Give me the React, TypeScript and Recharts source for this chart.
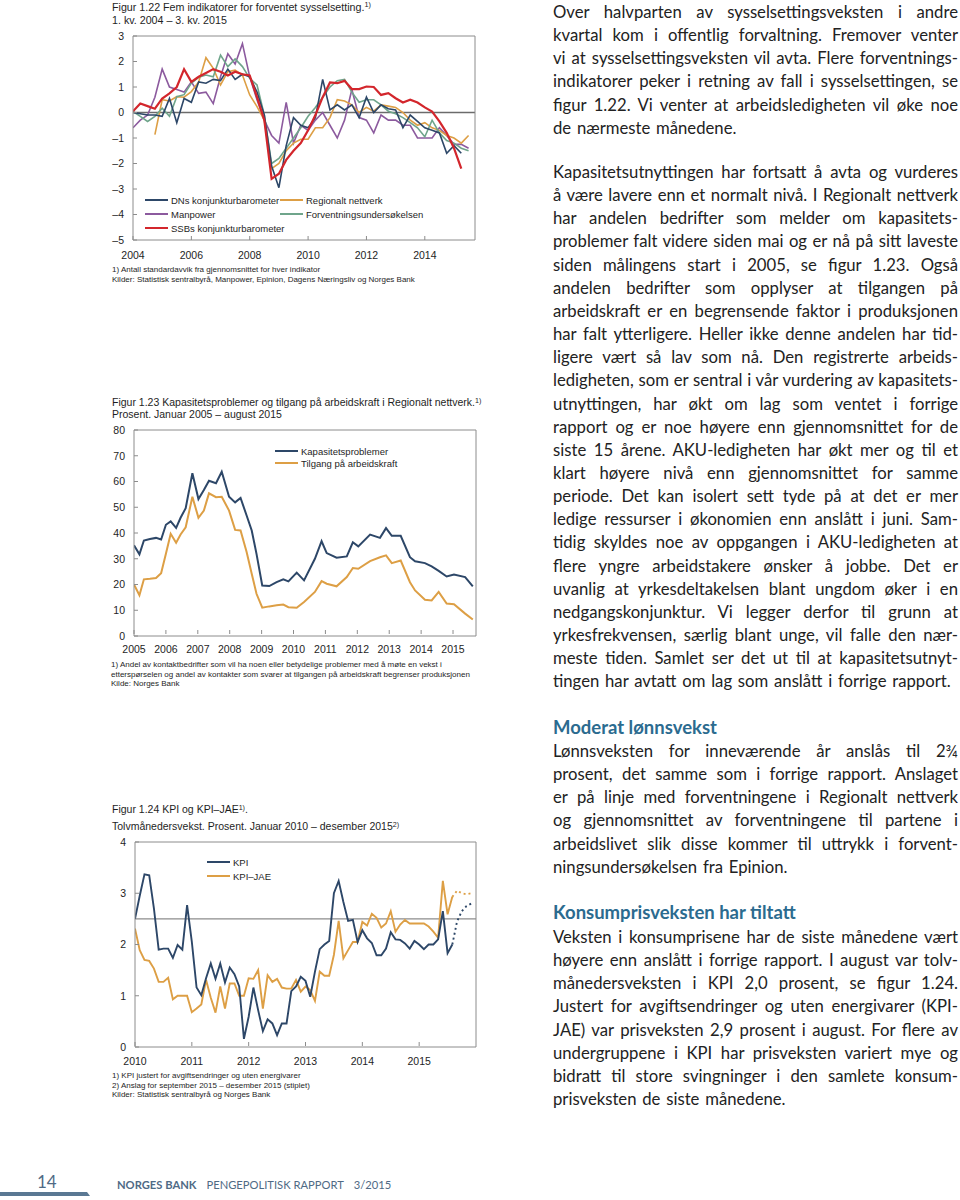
import React from 'react';
import { LineChart, Line, XAxis, YAxis, ReferenceLine } from 'recharts';

// ---------- Figur 1.22: quarterly, 1. kv. 2004 – 3. kv. 2015 ----------
const fig22FirstYear = 2004;
const dnsBarometer = [
  0.0, -0.05, -0.1, -0.1, -0.15, 0.55, -0.4, 0.55, 0.4, 1.2,
  1.15, 1.3, 1.25, 1.7, 1.3, 1.5, 1.4, 0.8, -0.1, -2.1,
  -2.95, -1.3, -0.2, -0.5, -0.6, -0.2, 1.3, 0.1, 0.3, 0.1,
  0.3, -0.2, 0.6, 0.0, 0.3, 0.15, 0.1, -0.6, -0.1, -0.35,
  -0.6, -0.7, -0.8, -1.6, -1.3, -1.6, null,
];
const regionaltNettverk = [
  null, null, null, -0.87, 0.5, 0.45, 0.62, 0.6, 0.82, 1.2,
  2.15, 1.73, 1.08, 1.6, 1.66, 1.47, 0.69, 0.23, -0.3, -2.2,
  -2.0, -1.5, -1.2, -1.05, -1.05, -0.6, -0.6, -0.2, 0.5, 0.45,
  0.3, 0.0, 0.2, 0.05, 0.3, 0.25, 0.2, 0.0, -0.3, -0.5,
  -0.4, -0.6, -0.7, -0.9, -1.0, -1.2, -0.9,
];
const manpower = [
  -0.6, -0.3, -0.1, 0.6, 1.7, 1.0, 0.9, 0.8, 1.2, 0.75,
  0.8, 0.35, 1.4, 2.3, 1.9, 2.7, 1.4, 0.5, -0.3, -0.9,
  -1.2, 0.4, -1.2, -0.5, -0.7, -0.3, 0.0, -0.5, -1.0, -0.3,
  0.9, -0.2, -0.3, -0.8, -0.1, -0.3, -0.3, -0.5, -0.5, -1.0,
  -1.0, -1.0, -0.6, -0.9, -1.25, -1.25, -1.4,
];
const forventning = [
  0.04, -0.15, -0.35, -0.15, 0.17, -0.15, 0.62, 0.7, 1.15, 1.38,
  1.47, 1.4, 2.25, 1.8, 2.1, 1.8, 1.34, 1.08, -0.1, -2.0,
  -1.8, -1.4, -1.0, -0.6, -0.15, 0.2, 0.6, 1.0, 1.25, 1.3,
  0.8, 0.4, 0.5, 0.5, 0.3, 0.05, -0.05, -0.2, -0.4, -0.6,
  -0.95, -0.3, -0.8, -1.1, -1.2, -1.4, -1.5,
];
const ssbBarometer = [
  0.05, 0.35, 0.25, 0.15, 0.55, 0.75, 1.0, 1.7, 1.2, 1.4,
  1.55, 1.7, 1.6, 1.45, 1.6, 1.5, 1.45, 0.6, -0.3, -2.6,
  -2.4, -1.86, -1.5, -1.2, -0.7, -0.1, 0.6, 1.18, 1.15, 1.24,
  0.92, 0.92, 1.02, 1.0, 0.69, 0.76, 0.56, 0.39, 0.5, 0.39,
  0.2, 0.04, -0.35, -0.8, -1.4, -2.2, null,
];
const fig22YTicks = [-5, -4, -3, -2, -1, 0, 1, 2, 3];
const fig22XTicks = [2004, 2006, 2008, 2010, 2012, 2014];

// ---------- Figur 1.23: Regionalt nettverk, januar 2005 – august 2015 ----------
const fig23Dates = [
  2005.0, 2005.17, 2005.31, 2005.5, 2005.69, 2005.85, 2006.0, 2006.15, 2006.32, 2006.46,
  2006.62, 2006.83, 2007.02, 2007.19, 2007.35, 2007.57, 2007.75, 2007.98, 2008.17, 2008.34,
  2008.53, 2008.69, 2008.84, 2009.02, 2009.24, 2009.47, 2009.68, 2009.84, 2010.1, 2010.33,
  2010.67, 2010.88, 2011.04, 2011.35, 2011.67, 2011.86, 2012.03, 2012.4, 2012.71, 2012.9,
  2013.08, 2013.36, 2013.65, 2013.81, 2014.12, 2014.33, 2014.55, 2014.8, 2015.03, 2015.38,
  2015.62,
];
const kapasitetsproblemer = [
  35.2, 31.7, 37.1, 37.7, 38.1, 37.5, 43.2, 44.5, 42.0, 45.9,
  49.6, 63.2, 53.2, 56.7, 60.3, 59.3, 63.8, 54.1, 51.9, 53.6,
  46.8, 41.0, 31.9, 19.6, 19.4, 20.9, 22.0, 21.2, 24.6, 21.6,
  30.0, 36.8, 32.2, 30.4, 30.9, 36.4, 34.8, 39.4, 38.1, 41.9,
  38.9, 38.9, 30.6, 29.0, 28.3, 27.0, 25.3, 23.1, 23.9, 22.9,
  19.3,
];
const tilgangArbeidskraft = [
  20.0, 15.8, 22.0, 22.2, 22.5, 24.4, 31.9, 39.7, 36.2, 39.4,
  42.2, 54.1, 45.9, 48.7, 55.4, 53.9, 54.1, 48.7, 41.2, 41.0,
  32.6, 24.2, 16.4, 11.0, 11.5, 11.9, 12.2, 11.2, 11.0, 13.2,
  17.1, 21.3, 20.3, 19.3, 22.9, 26.4, 26.1, 29.1, 30.6, 31.3,
  28.3, 29.3, 20.9, 17.7, 14.1, 13.8, 17.1, 12.6, 12.3, 8.7,
  6.4,
];
const fig23YTicks = [0, 10, 20, 30, 40, 50, 60, 70, 80];
const fig23XTicks = [2005, 2006, 2007, 2008, 2009, 2010, 2011, 2012, 2013, 2014, 2015];

// ---------- Figur 1.24: KPI og KPI-JAE, januar 2010 – desember 2015 (monthly) ----------
const kpi = [
  2.5, 2.95, 3.37, 3.35, 2.7, 1.9, 1.92, 1.92, 1.74, 1.99, 1.9, 2.77,
  2.05, 1.16, 1.01, 1.34, 1.63, 1.33, 1.63, 1.26, 1.55, 1.42, 1.18, 0.16,
  0.59, 1.16, 0.72, 0.31, 0.54, 0.46, 0.23, 0.46, 0.46, 1.09, 1.18, 1.37,
  1.29, 0.98, 1.47, 1.91, 2.0, 2.07, 3.0, 3.24, 2.83, 2.46, 2.48, 2.05,
  2.28, 2.12, 2.03, 1.79, 1.79, 1.92, 2.24, 2.1, 2.09, 2.02, 1.92, 2.07,
  2.0, 1.91, 2.0, 2.0, 2.1, 2.65, 1.83, 2.0,
];
const kpiJae = [
  2.31, 1.89, 1.7, 1.68, 1.53, 1.27, 1.27, 1.35, 0.93, 1.0, 1.0, 1.0,
  0.68, 0.75, 0.83, 1.31, 0.96, 0.67, 1.18, 0.75, 1.24, 1.24, 1.0, 1.0,
  1.34, 1.33, 1.5, 0.75, 1.4, 1.27, 1.33, 1.16, 1.14, 1.14, 1.31, 1.08,
  1.18, 1.11, 0.9, 1.47, 1.39, 1.39, 1.8, 2.46, 1.73, 1.89, 2.05, 2.05,
  2.44, 2.37, 2.6, 2.52, 2.33, 2.41, 2.65, 2.25, 2.39, 2.48, 2.41, 2.41,
  2.41, 2.41, 2.35, 2.25, 2.13, 3.24, 2.59, 2.93,
];
// anslag aug (siste observasjon) – des 2015
const kpiAnslag = [2.0, 2.45, 2.65, 2.75, 2.8];
const kpiJaeAnslag = [2.93, 3.05, 3.0, 2.98, 3.0];
const fig24YTicks = [0, 1, 2, 3, 4];
const fig24XTicks = [0, 12, 24, 36, 48, 60];
const inflasjonsmaal = 2.5;

// ---------- build tables ----------
const fig22Data = ssbBarometer.map((_, i) => ({
  t: fig22FirstYear + i / 4,
  dns: dnsBarometer[i],
  reg: regionaltNettverk[i],
  man: manpower[i],
  fvu: forventning[i],
  ssb: ssbBarometer[i],
}));
const fig23Data = fig23Dates.map((t, i) => ({
  t,
  kap: kapasitetsproblemer[i],
  arb: tilgangArbeidskraft[i],
}));
const anslagStart = kpi.length - 1;
const fig24Data = Array.from({ length: anslagStart + kpiAnslag.length }, (_, m) => ({
  m,
  kpi: m < kpi.length ? kpi[m] : null,
  jae: m < kpiJae.length ? kpiJae[m] : null,
  kpiP: m >= anslagStart ? kpiAnslag[m - anslagStart] : null,
  jaeP: m >= anslagStart ? kpiJaeAnslag[m - anslagStart] : null,
}));

// ---------- styles ----------
const CHART_FONT = '"Liberation Sans", Arial, sans-serif';
const BODY_FONT = 'Lato, "Noto Sans", sans-serif';
const INK = '#1e1e1e';
const AXIS = '#8c8c8c';
const NAVY = '#2d4768';
const ORANGE = '#dd9f45';
const PURPLE = '#8c5a9e';
const GREEN = '#6fa58b';
const RED = '#d3262c';
const HEAD = '#2b6b8f';
const FOOT = '#4f6a85';

const fmtNum = (v: number) => (v < 0 ? `\u2013${Math.abs(v)}` : `${v}`);

const yTick = (side: 'left' | 'right') => (props: any) => {
  const { x, y, payload } = props;
  const axisX = side === 'left' ? x + 9 : x - 9;
  const d = side === 'left' ? 4 : -4;
  return (
    <g>
      <line x1={axisX} x2={axisX + d} y1={y} y2={y} stroke={AXIS} />
      <text
        x={x}
        y={y}
        dy="0.36em"
        textAnchor={side === 'left' ? 'end' : 'start'}
        fontSize={10.5}
        fontFamily={CHART_FONT}
        fill={INK}
      >
        {fmtNum(payload.value)}
      </text>
    </g>
  );
};

const xTick = (fmt: (v: number) => string) => (props: any) => {
  const { x, y, payload } = props;
  const axisY = y - 11;
  return (
    <g>
      <line x1={x} x2={x} y1={axisY} y2={axisY - 4} stroke={AXIS} />
      <text x={x} y={y} dy="0.78em" textAnchor="middle" fontSize={10.5} fontFamily={CHART_FONT} fill={INK}>
        {fmt(payload.value)}
      </text>
    </g>
  );
};

const Txt = ({ x, y, size, children, color = INK, weight = 400 }: any) => (
  <div
    style={{
      position: 'absolute',
      left: x,
      top: y - size * 0.62,
      fontSize: size,
      lineHeight: `${size * 1.2}px`,
      fontFamily: CHART_FONT,
      color,
      fontWeight: weight,
      whiteSpace: 'nowrap',
    }}
  >
    {children}
  </div>
);

const Sup = ({ children }: any) => (
  <span style={{ fontSize: '0.68em', position: 'relative', top: '-0.55em' }}>{children}</span>
);

const LegendItem = ({ x, y, color, label }: any) => (
  <div style={{ position: 'absolute', left: x, top: y - 6, height: 12, display: 'flex', alignItems: 'center' }}>
    <div style={{ width: 23, height: 2, background: color, marginRight: 3 }} />
    <span style={{ fontSize: 9.5, fontFamily: CHART_FONT, color: INK, whiteSpace: 'nowrap' }}>{label}</span>
  </div>
);

const axisProps = {
  axisLine: { stroke: AXIS },
  tickLine: false,
  tickSize: 0,
  interval: 0 as const,
};

// ---------- right column ----------
const para1 = [
  'Over halvparten av sysselsettingsveksten i andre',
  'kvartal kom i offentlig forvaltning. Fremover venter',
  'vi at sysselsettingsveksten vil avta. Flere forventnings-',
  'indikatorer peker i retning av fall i sysselsettingen, se',
  'figur 1.22. Vi venter at arbeidsledigheten vil øke noe',
  'de nærmeste månedene.',
];
const para2 = [
  'Kapasitetsutnyttingen har fortsatt å avta og vurderes',
  'å være lavere enn et normalt nivå. I Regionalt nettverk',
  'har andelen bedrifter som melder om kapasitets-',
  'problemer falt videre siden mai og er nå på sitt laveste',
  'siden målingens start i 2005, se figur 1.23. Også',
  'andelen bedrifter som opplyser at tilgangen på',
  'arbeidskraft er en begrensende faktor i produksjonen',
  'har falt ytterligere. Heller ikke denne andelen har tid-',
  'ligere vært så lav som nå. Den registrerte arbeids-',
  'ledigheten, som er sentral i vår vurdering av kapasitets-',
  'utnyttingen, har økt om lag som ventet i forrige',
  'rapport og er noe høyere enn gjennomsnittet for de',
  'siste 15 årene. AKU-ledigheten har økt mer og til et',
  'klart høyere nivå enn gjennomsnittet for samme',
  'periode. Det kan isolert sett tyde på at det er mer',
  'ledige ressurser i økonomien enn anslått i juni. Sam-',
  'tidig skyldes noe av oppgangen i AKU-ledigheten at',
  'flere yngre arbeidstakere ønsker å jobbe. Det er',
  'uvanlig at yrkesdeltakelsen blant ungdom øker i en',
  'nedgangskonjunktur. Vi legger derfor til grunn at',
  'yrkesfrekvensen, særlig blant unge, vil falle den nær-',
  'meste tiden. Samlet ser det ut til at kapasitetsutnyt-',
  'tingen har avtatt om lag som anslått i forrige rapport.',
];
const para3 = [
  'Lønnsveksten for inneværende år anslås til 2¾',
  'prosent, det samme som i forrige rapport. Anslaget',
  'er på linje med forventningene i Regionalt nettverk',
  'og gjennomsnittet av forventningene til partene i',
  'arbeidslivet slik disse kommer til uttrykk i forvent-',
  'ningsundersøkelsen fra Epinion.',
];
const para4 = [
  'Veksten i konsumprisene har de siste månedene vært',
  'høyere enn anslått i forrige rapport. I august var tolv-',
  'månedersveksten i KPI 2,0 prosent, se figur 1.24.',
  'Justert for avgiftsendringer og uten energivarer (KPI-',
  'JAE) var prisveksten 2,9 prosent i august. For flere av',
  'undergruppene i KPI har prisveksten variert mye og',
  'bidratt til store svingninger i den samlete konsum-',
  'prisveksten de siste månedene.',
];

const TEXT_X = 553;
const TEXT_W = 405;
const LINE_H = 23.15;
const BODY_SIZE = 16.7;

const Paragraph = ({ y, lines }: any) => (
  <>
    {lines.map((line: string, i: number) => {
      const justify = i < lines.length - 1;
      return (
        <div
          key={i}
          style={{
            position: 'absolute',
            left: TEXT_X,
            top: y + i * LINE_H - 11,
            width: TEXT_W,
            fontSize: BODY_SIZE,
            lineHeight: '22px',
            fontFamily: BODY_FONT,
            color: '#222',
            textAlign: justify ? 'justify' : 'left',
            textAlignLast: justify ? 'justify' : 'left',
            wordSpacing: justify ? 0 : 1.5,
            whiteSpace: 'nowrap',
          }}
        >
          {line}
        </div>
      );
    })}
  </>
);

const Heading = ({ y, children }: any) => (
  <div
    style={{
      position: 'absolute',
      left: TEXT_X,
      top: y - 12,
      fontSize: 18.5,
      lineHeight: '24px',
      fontFamily: BODY_FONT,
      fontWeight: 700,
      color: HEAD,
      whiteSpace: 'nowrap',
    }}
  >
    {children}
  </div>
);

export default function App() {
  return (
    <div
      style={{
        position: 'absolute',
        left: 0,
        top: 0,
        width: 960,
        height: 1200,
        background: '#fff',
        overflow: 'hidden',
      }}
    >
      {/* Figur 1.22 */}
      <div style={{ position: 'absolute', left: 0, top: 0 }}>
        <LineChart width={530} height={270} data={fig22Data} margin={{ top: 36, right: 15, bottom: 5, left: 93 }}>
          <XAxis
            dataKey="t"
            type="number"
            domain={[2004, 2015.72]}
            ticks={fig22XTicks}
            height={25}
            tickMargin={11}
            tick={xTick((v) => `${v}`)}
            allowDataOverflow
            {...axisProps}
          />
          <YAxis yAxisId="l" orientation="left" width={40} domain={[-5, 3]} ticks={fig22YTicks} tickMargin={9} tick={yTick('left')} {...axisProps} />
          <YAxis yAxisId="r" orientation="right" width={40} domain={[-5, 3]} ticks={fig22YTicks} tickMargin={9} tick={yTick('right')} {...axisProps} />
          <ReferenceLine yAxisId="l" y={3} stroke={AXIS} />
          <ReferenceLine yAxisId="l" y={0} stroke="#6b6b6b" strokeWidth={1.5} />
          <Line yAxisId="l" dataKey="man" stroke={PURPLE} strokeWidth={1.6} dot={false} isAnimationActive={false} />
          <Line yAxisId="l" dataKey="reg" stroke={ORANGE} strokeWidth={1.6} dot={false} isAnimationActive={false} />
          <Line yAxisId="l" dataKey="fvu" stroke={GREEN} strokeWidth={1.6} dot={false} isAnimationActive={false} />
          <Line yAxisId="l" dataKey="dns" stroke={NAVY} strokeWidth={1.6} dot={false} isAnimationActive={false} />
          <Line yAxisId="l" dataKey="ssb" stroke={RED} strokeWidth={2.2} dot={false} isAnimationActive={false} />
        </LineChart>
      </div>
      <Txt x={112} y={8} size={10.7}>
        Figur 1.22 Fem indikatorer for forventet sysselsetting.<Sup>1)</Sup>
      </Txt>
      <Txt x={112} y={21} size={10.7}>1. kv. 2004 – 3. kv. 2015</Txt>
      <LegendItem x={145} y={200} color={NAVY} label="DNs konjunkturbarometer" />
      <LegendItem x={145} y={214} color={PURPLE} label="Manpower" />
      <LegendItem x={145} y={228} color={RED} label="SSBs konjunkturbarometer" />
      <LegendItem x={280} y={200} color={ORANGE} label="Regionalt nettverk" />
      <LegendItem x={280} y={214} color={GREEN} label="Forventningsundersøkelsen" />
      <Txt x={112} y={270} size={8}>1) Antall standardavvik fra gjennomsnittet for hver indikator</Txt>
      <Txt x={112} y={280} size={8}>Kilder: Statistisk sentralbyrå, Manpower, Epinion, Dagens Næringsliv og Norges Bank</Txt>

      {/* Figur 1.23 */}
      <div style={{ position: 'absolute', left: 0, top: 400 }}>
        <LineChart width={531} height={270} data={fig23Data} margin={{ top: 30, right: 15, bottom: 9, left: 94 }}>
          <XAxis
            dataKey="t"
            type="number"
            domain={[2005, 2015.72]}
            ticks={fig23XTicks}
            height={25}
            tickMargin={9}
            tick={xTick((v) => `${v}`)}
            allowDataOverflow
            {...axisProps}
          />
          <YAxis yAxisId="l" orientation="left" width={40} domain={[0, 80]} ticks={fig23YTicks} tickMargin={9} tick={yTick('left')} {...axisProps} />
          <YAxis yAxisId="r" orientation="right" width={40} domain={[0, 80]} ticks={fig23YTicks} tickMargin={9} tick={yTick('right')} {...axisProps} />
          <ReferenceLine yAxisId="l" y={80} stroke={AXIS} />
          <Line yAxisId="l" dataKey="arb" stroke={ORANGE} strokeWidth={2} dot={false} isAnimationActive={false} />
          <Line yAxisId="l" dataKey="kap" stroke={NAVY} strokeWidth={2} dot={false} isAnimationActive={false} />
        </LineChart>
      </div>
      <Txt x={112} y={403} size={10.5}>
        Figur 1.23 Kapasitetsproblemer og tilgang på arbeidskraft i Regionalt nettverk.<Sup>1)</Sup>
      </Txt>
      <Txt x={112} y={415} size={10.5}>Prosent. Januar 2005 – august 2015</Txt>
      <LegendItem x={275} y={451} color={NAVY} label="Kapasitetsproblemer" />
      <LegendItem x={275} y={463} color={ORANGE} label="Tilgang på arbeidskraft" />
      <Txt x={111} y={665} size={8}>1) Andel av kontaktbedrifter som vil ha noen eller betydelige problemer med å møte en vekst i</Txt>
      <Txt x={111} y={674.5} size={8}>etterspørselen og andel av kontakter som svarer at tilgangen på arbeidskraft begrenser produksjonen</Txt>
      <Txt x={111} y={684} size={8}>Kilde: Norges Bank</Txt>

      {/* Figur 1.24 */}
      <div style={{ position: 'absolute', left: 0, top: 810 }}>
        <LineChart width={531} height={270} data={fig24Data} margin={{ top: 32, right: 15, bottom: 8, left: 95 }}>
          <XAxis
            dataKey="m"
            type="number"
            domain={[0, 72]}
            ticks={fig24XTicks}
            height={25}
            tickMargin={10}
            tick={xTick((v) => `${2010 + v / 12}`)}
            allowDataOverflow
            {...axisProps}
          />
          <YAxis yAxisId="l" orientation="left" width={40} domain={[0, 4]} ticks={fig24YTicks} tickMargin={9} tick={yTick('left')} {...axisProps} />
          <YAxis yAxisId="r" orientation="right" width={40} domain={[0, 4]} ticks={fig24YTicks} tickMargin={9} tick={yTick('right')} {...axisProps} />
          <ReferenceLine yAxisId="l" y={4} stroke={AXIS} />
          <ReferenceLine yAxisId="l" y={inflasjonsmaal} stroke={AXIS} strokeWidth={1.3} />
          <Line yAxisId="l" dataKey="jae" stroke={ORANGE} strokeWidth={1.9} dot={false} isAnimationActive={false} />
          <Line yAxisId="l" dataKey="kpi" stroke={NAVY} strokeWidth={1.9} dot={false} isAnimationActive={false} />
          <Line yAxisId="l" dataKey="jaeP" stroke={ORANGE} strokeWidth={1.9} strokeDasharray="2 3" dot={false} isAnimationActive={false} />
          <Line yAxisId="l" dataKey="kpiP" stroke={NAVY} strokeWidth={1.9} strokeDasharray="2 3" dot={false} isAnimationActive={false} />
        </LineChart>
      </div>
      <Txt x={112} y={810} size={10.5}>
        Figur 1.24 KPI og KPI–JAE<Sup>1)</Sup>.
      </Txt>
      <Txt x={112} y={827} size={10.5}>
        Tolvmånedersvekst. Prosent. Januar 2010 – desember 2015<Sup>2)</Sup>
      </Txt>
      <LegendItem x={207} y={862} color={NAVY} label="KPI" />
      <LegendItem x={207} y={876} color={ORANGE} label="KPI–JAE" />
      <Txt x={112} y={1076} size={8}>1) KPI justert for avgiftsendringer og uten energivarer</Txt>
      <Txt x={112} y={1085.5} size={8}>2) Anslag for september 2015 – desember 2015 (stiplet)</Txt>
      <Txt x={112} y={1095} size={8}>Kilder: Statistisk sentralbyrå og Norges Bank</Txt>

      {/* right column */}
      <Paragraph y={12} lines={para1} />
      <Paragraph y={172} lines={para2} />
      <Heading y={727}>Moderat lønnsvekst</Heading>
      <Paragraph y={751} lines={para3} />
      <Heading y={912}>Konsumprisveksten har tiltatt</Heading>
      <Paragraph y={937} lines={para4} />

      {/* footer */}
      <div
        style={{
          position: 'absolute',
          left: 37,
          top: 1171,
          fontSize: 17,
          lineHeight: '22px',
          fontFamily: BODY_FONT,
          color: FOOT,
        }}
      >
        14
      </div>
      <div
        style={{
          position: 'absolute',
          left: 0,
          top: 1192,
          width: 90,
          height: 4,
          background: '#5a7893',
          clipPath: 'polygon(0 0, 87px 0, 90px 4px, 0 4px)',
        }}
      />
      <div
        style={{
          position: 'absolute',
          left: 117,
          top: 1177,
          fontSize: 11.2,
          lineHeight: '15px',
          fontFamily: BODY_FONT,
          color: FOOT,
          whiteSpace: 'nowrap',
        }}
      >
        <span style={{ fontWeight: 700 }}>NORGES BANK</span>
        <span style={{ marginLeft: 10 }}>PENGEPOLITISK RAPPORT</span>
        <span style={{ marginLeft: 10 }}>3/2015</span>
      </div>
    </div>
  );
}
